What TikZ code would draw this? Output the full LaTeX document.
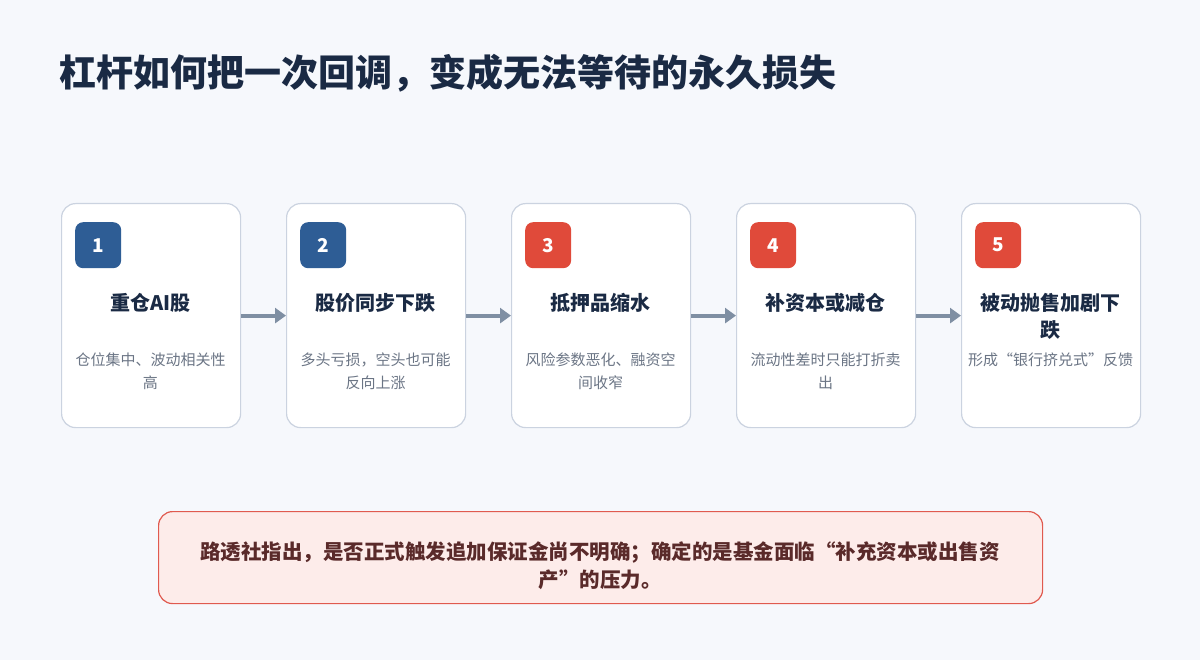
\documentclass[tikz,border=0pt]{standalone}
\usepackage{fontspec}
\setmainfont{Noto Sans CJK SC}
\usetikzlibrary{arrows.meta}
\begin{document}
\begin{tikzpicture}[x=1pt,y=-1pt,
  card/.style={draw=cardline,line width=1.2pt,fill=white,rounded corners=14pt,minimum width=179pt,minimum height=224pt,anchor=north west},
  badge/.style={rounded corners=8pt,minimum width=46pt,minimum height=46pt,text=white,font=\bfseries\fontsize{19}{22}\selectfont,anchor=north west},
  ttl/.style={text width=170pt,align=center,font=\bfseries\fontsize{20}{27}\selectfont,text=titlec,anchor=north},
  dsc/.style={text width=170pt,align=center,font=\fontsize{15}{23}\selectfont,text=descc,anchor=north},
  arr/.style={draw=arrc,line width=4pt,-{Triangle[length=11pt,width=15pt]}}]
\definecolor{bg}{HTML}{F6F8FC}
\definecolor{cardline}{HTML}{CBD3E0}
\definecolor{titlec}{HTML}{1A2A44}
\definecolor{descc}{HTML}{6B7585}
\definecolor{bluec}{HTML}{2E5D95}
\definecolor{redc}{HTML}{E04A3A}
\definecolor{arrc}{HTML}{7F8FA3}
\definecolor{notefill}{HTML}{FDECEA}
\definecolor{noteline}{HTML}{E05A4F}
\definecolor{notetext}{HTML}{5A2A2A}
\fill[bg] (0,0) rectangle (1200,660);
\useasboundingbox (0,0) rectangle (1200,660);
\node[anchor=west,text=titlec,font=\bfseries\fontsize{37}{42}\selectfont] (title) at (56,73) {杠杆如何把一次回调，变成无法等待的永久损失};
\foreach \i/\c/\t/\d in {1/bluec/重仓AI股/仓位集中、波动相关性\\高,2/bluec/股价同步下跌/多头亏损，空头也可能\\反向上涨,3/redc/抵押品缩水/风险参数恶化、融资空\\间收窄,4/redc/补资本或减仓/流动性差时只能打折卖\\出,5/redc/被动抛售加剧下\\跌/形成“银行挤兑式”反馈}{
  \pgfmathsetmacro\xx{61+225*(\i-1)}
  \node[card] (c\i) at (\xx,203) {};
  \node[badge,fill=\c] (b\i) at (\xx+14,222) {\i};
  \node[ttl] (t\i) at (\xx+89.5,290) {\t};
  \node[dsc] (d\i) at (\xx+89.5,349) {\d};
}
\foreach \i/\j in {1/2,2/3,3/4,4/5}{\draw[arr] (c\i.east) -- (c\j.west);}
\node[draw=noteline,fill=notefill,line width=1.2pt,rounded corners=14pt,minimum width=884pt,minimum height=92pt,anchor=north west] (note) at (158,511) {};
\node[text width=860pt,align=center,text=notetext,font=\bfseries\fontsize{20.5}{28}\selectfont,anchor=north] (notetxt) at (600,538) {路透社指出，是否正式触发追加保证金尚不明确；确定的是基金面临“补充资本或出售资\\产”的压力。};
\end{tikzpicture}
\end{document}
